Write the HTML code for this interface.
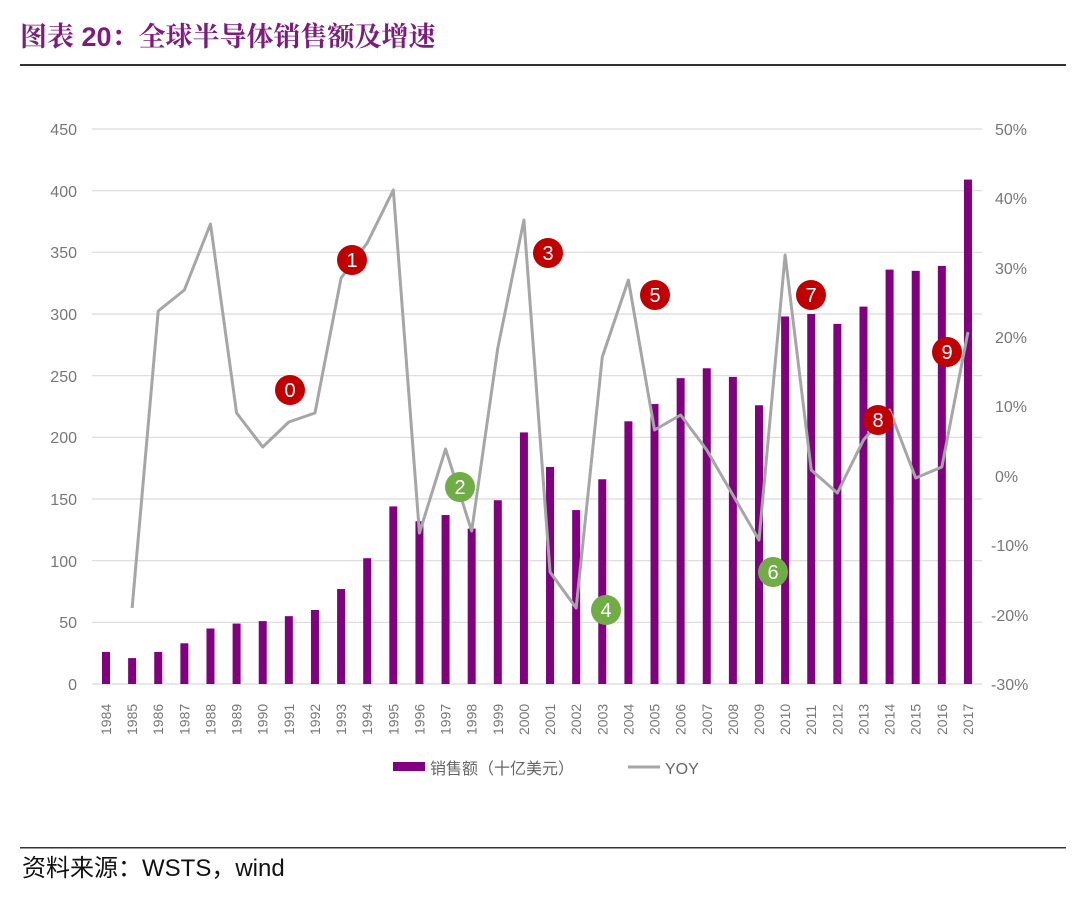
<!DOCTYPE html>
<html><head><meta charset="utf-8"><style>
body{margin:0;background:#fff;}
</style></head><body>
<svg width="1080" height="895" xmlns="http://www.w3.org/2000/svg" font-family="Liberation Sans, Noto Sans CJK SC, sans-serif">
<text x="20" y="46" font-size="27" font-weight="bold" fill="#7d1b7e" font-family="Liberation Sans, Noto Serif CJK SC, serif">图表 20：全球半导体销售额及增速</text>
<rect x="20" y="64" width="1046" height="2" fill="#333"/>
<rect x="20" y="847" width="1046" height="1.5" fill="#333"/>
<text x="22" y="876" font-size="24" fill="#111">资料来源：WSTS，wind</text>
<g stroke="#d9d9d9" stroke-width="1.2">
<line x1="92" x2="982" y1="129" y2="129"/><line x1="92" x2="982" y1="190.7" y2="190.7"/>
<line x1="92" x2="982" y1="252.3" y2="252.3"/><line x1="92" x2="982" y1="314" y2="314"/>
<line x1="92" x2="982" y1="375.7" y2="375.7"/><line x1="92" x2="982" y1="437.3" y2="437.3"/>
<line x1="92" x2="982" y1="499" y2="499"/><line x1="92" x2="982" y1="560.7" y2="560.7"/>
<line x1="92" x2="982" y1="622.3" y2="622.3"/><line x1="92" x2="982" y1="684" y2="684"/>
</g>
<g font-size="16" fill="#777" text-anchor="end">
<text x="77" y="135">450</text><text x="77" y="197">400</text><text x="77" y="258">350</text>
<text x="77" y="320">300</text><text x="77" y="382">250</text><text x="77" y="443">200</text>
<text x="77" y="505">150</text><text x="77" y="567">100</text><text x="77" y="628">50</text><text x="77" y="690">0</text>
</g>
<g font-size="16" fill="#777">
<text x="995" y="135">50%</text><text x="995" y="204">40%</text><text x="995" y="274">30%</text>
<text x="995" y="343">20%</text><text x="995" y="412">10%</text><text x="995" y="482">0%</text>
<text x="991" y="551">-10%</text><text x="991" y="621">-20%</text><text x="991" y="690">-30%</text>
</g>
<g id="bars" fill="#800080"></g>
<g id="xl" font-size="14" fill="#777"></g>
<polyline id="yoy" fill="none" stroke="#a6a6a6" stroke-width="3" stroke-linejoin="round"/>
<g font-size="20" fill="#fff" text-anchor="middle">
<circle cx="290" cy="390" r="15" fill="#c00000"/><text x="290" y="397">0</text>
<circle cx="352" cy="260" r="15" fill="#c00000"/><text x="352" y="267">1</text>
<circle cx="460" cy="487" r="15" fill="#70ad47"/><text x="460" y="494">2</text>
<circle cx="548" cy="253" r="15" fill="#c00000"/><text x="548" y="260">3</text>
<circle cx="606" cy="610" r="15" fill="#70ad47"/><text x="606" y="617">4</text>
<circle cx="655" cy="295" r="15" fill="#c00000"/><text x="655" y="302">5</text>
<circle cx="773" cy="572" r="15" fill="#70ad47"/><text x="773" y="579">6</text>
<circle cx="811" cy="295" r="15" fill="#c00000"/><text x="811" y="302">7</text>
<circle cx="878" cy="420" r="15" fill="#c00000"/><text x="878" y="427">8</text>
<circle cx="947" cy="352" r="15" fill="#c00000"/><text x="947" y="359">9</text>
</g>
<rect x="393" y="762" width="32" height="9" fill="#800080"/>
<text x="430" y="774" font-size="16" fill="#666">销售额（十亿美元）</text>
<line x1="628" x2="660" y1="767" y2="767" stroke="#a6a6a6" stroke-width="3"/>
<text x="665" y="774" font-size="16" fill="#666">YOY</text>
</svg>
<script>
var v=[26,21,26,33,45,49,51,55,60,77,102,144,132,137,126,149,204,176,141,166,213,227,248,256,249,226,298,300,292,306,336,335,339,409];
var yy=[null,608,311,290,224,413,447,422,413,278,243,190,533,449,531,348,220,572,608,357,280,430,415,450,495,540,255,470,493,440,410,478,467,332];
var ns="http://www.w3.org/2000/svg",b=document.getElementById('bars'),xl=document.getElementById('xl'),pts=[];
for(var i=0;i<34;i++){var x=106+i*26.12;
var r=document.createElementNS(ns,'rect');var h=v[i]*1.2333;
r.setAttribute('x',x-4);r.setAttribute('y',684-h);r.setAttribute('width',8);r.setAttribute('height',h);b.appendChild(r);
var t=document.createElementNS(ns,'text');t.setAttribute('transform','translate('+(x+5)+',735) rotate(-90)');t.textContent=1984+i;xl.appendChild(t);
if(yy[i]!==null)pts.push(x+','+yy[i]);}
document.getElementById('yoy').setAttribute('points',pts.join(' '));
</script>
</body></html>
